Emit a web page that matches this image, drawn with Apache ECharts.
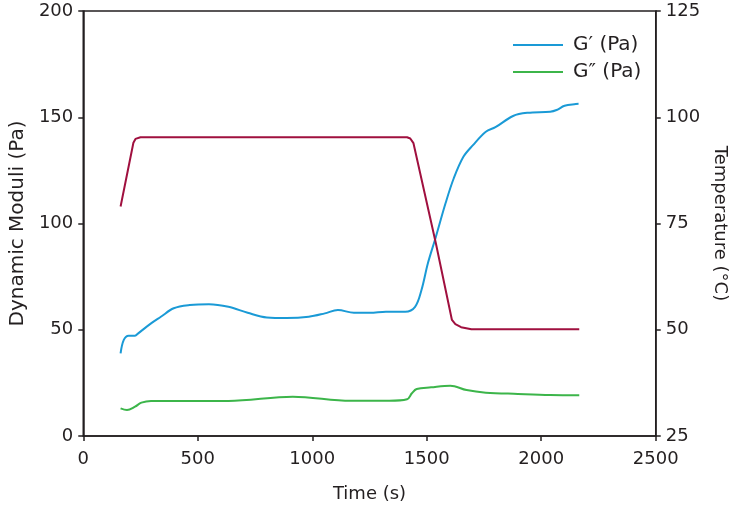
<!DOCTYPE html>
<html>
<head>
<meta charset="utf-8">
<script src="https://cdn.jsdelivr.net/npm/echarts@6/dist/echarts.min.js"></script>
<style>html,body{margin:0;padding:0;background:#fff}#c{width:737px;height:508px}</style>
</head>
<body>
<div id="c"></div>
<script>
var gpTime = [163,177,198,226,240,296,339,395,465,549,634,718,802,887,985,1055,1112,1182,1252,1322,1406,1449,1477,1505,1540,1582,1618,1660,1702,1758,1800,1877,1941,2039,2067,2102,2151,2163];
var gpVal  = [38.9,45.2,47.2,47.2,48.3,53,56.1,60.1,61.6,62,60.8,58,55.8,55.5,56.1,57.7,59.3,58,58,58.5,58.5,60.8,68.7,81.3,93.8,109.5,121.3,131.4,136.9,143.2,145.3,150.6,152.1,152.6,153.4,155.4,156.2,156.3];
var gppTime = [163,191,226,254,296,634,915,1168,1336,1414,1435,1456,1519,1603,1674,1758,1898,2039,2166];
var gppVal  = [13,12.2,13.8,15.7,16.5,16.5,18.5,16.6,16.6,17.3,20.1,22.1,22.9,23.7,21.6,20.4,19.8,19.3,19.2];
var tempTime = [163,219,228,236,250,1414,1428,1442,1540,1610,1625,1650,1695,2166];
var tempVal  = [79,94,94.9,95.2,95.3,95.3,95,93.9,70.3,52.3,51.3,50.6,50.1,50.1];

function pairs(t, v){ return t.map(function(x,i){ return [x, v[i]]; }); }

var axisColor = '#231f20';
var font = 'DejaVu Sans';
var chart = echarts.init(document.getElementById('c'));
chart.setOption({
  animation: false,
  backgroundColor: '#fff',
  textStyle: {fontFamily: font},
  grid: {left: 83, right: 61, top: 11, bottom: 72, show: true, borderColor: axisColor, borderWidth: 1.5, containLabel: false},
  legend: {
    orient: 'vertical', left: 508, top: 30, itemWidth: 50, itemHeight: 2, itemGap: 7,
    icon: 'rect',
    textStyle: {fontFamily: font, fontSize: 20, color: '#231f20', padding: [0,0,0,5]},
    data: ['G\u2032 (Pa)', 'G\u2033 (Pa)']
  },
  xAxis: {
    type: 'value', min: 0, max: 2500, interval: 500,
    name: 'Time (s)', nameLocation: 'middle', nameGap: 49,
    nameTextStyle: {fontFamily: font, fontSize: 18, color: '#231f20'},
    axisLine: {show: true, lineStyle: {color: axisColor, width: 1.5}},
    axisTick: {show: true, inside: false, length: 5, lineStyle: {color: axisColor, width: 1.5}},
    axisLabel: {fontFamily: font, fontSize: 18, color: '#231f20', margin: 14, formatter: function(v){ return String(v); }},
    splitLine: {show: false}
  },
  yAxis: [{
    type: 'value', min: 0, max: 200, interval: 50, position: 'left',
    name: 'Dynamic Moduli (Pa)', nameLocation: 'middle', nameGap: 54, nameRotate: 90,
    nameTextStyle: {fontFamily: font, fontSize: 20, color: '#231f20'},
    axisLine: {show: true, lineStyle: {color: axisColor, width: 1.5}},
    axisTick: {show: true, inside: false, length: 5, lineStyle: {color: axisColor, width: 1.5}},
    axisLabel: {fontFamily: font, fontSize: 18, color: '#231f20', margin: 10},
    splitLine: {show: false}
  }, {
    type: 'value', min: 25, max: 125, interval: 25, position: 'right',
    name: 'Temperature (\u00B0C)', nameLocation: 'middle', nameGap: 46, nameRotate: -90,
    nameTextStyle: {fontFamily: font, fontSize: 18, color: '#231f20'},
    axisLine: {show: true, lineStyle: {color: axisColor, width: 1.5}},
    axisTick: {show: true, inside: false, length: 5, lineStyle: {color: axisColor, width: 1.5}},
    axisLabel: {fontFamily: font, fontSize: 18, color: '#231f20', margin: 10},
    splitLine: {show: false}
  }],
  series: [{
    name: 'G\u2032 (Pa)', type: 'line', yAxisIndex: 0, data: pairs(gpTime, gpVal),
    smooth: 0.35, showSymbol: false, symbol: 'none',
    lineStyle: {color: '#1a9ad6', width: 2}, itemStyle: {color: '#1a9ad6'}
  }, {
    name: 'G\u2033 (Pa)', type: 'line', yAxisIndex: 0, data: pairs(gppTime, gppVal),
    smooth: 0.35, showSymbol: false, symbol: 'none',
    lineStyle: {color: '#3cb54a', width: 2}, itemStyle: {color: '#3cb54a'}
  }, {
    name: 'Temperature', type: 'line', yAxisIndex: 1, data: pairs(tempTime, tempVal),
    smooth: false, showSymbol: false, symbol: 'none',
    lineStyle: {color: '#a0103f', width: 2}, itemStyle: {color: '#a0103f'}
  }]
});
</script>
</body>
</html>
